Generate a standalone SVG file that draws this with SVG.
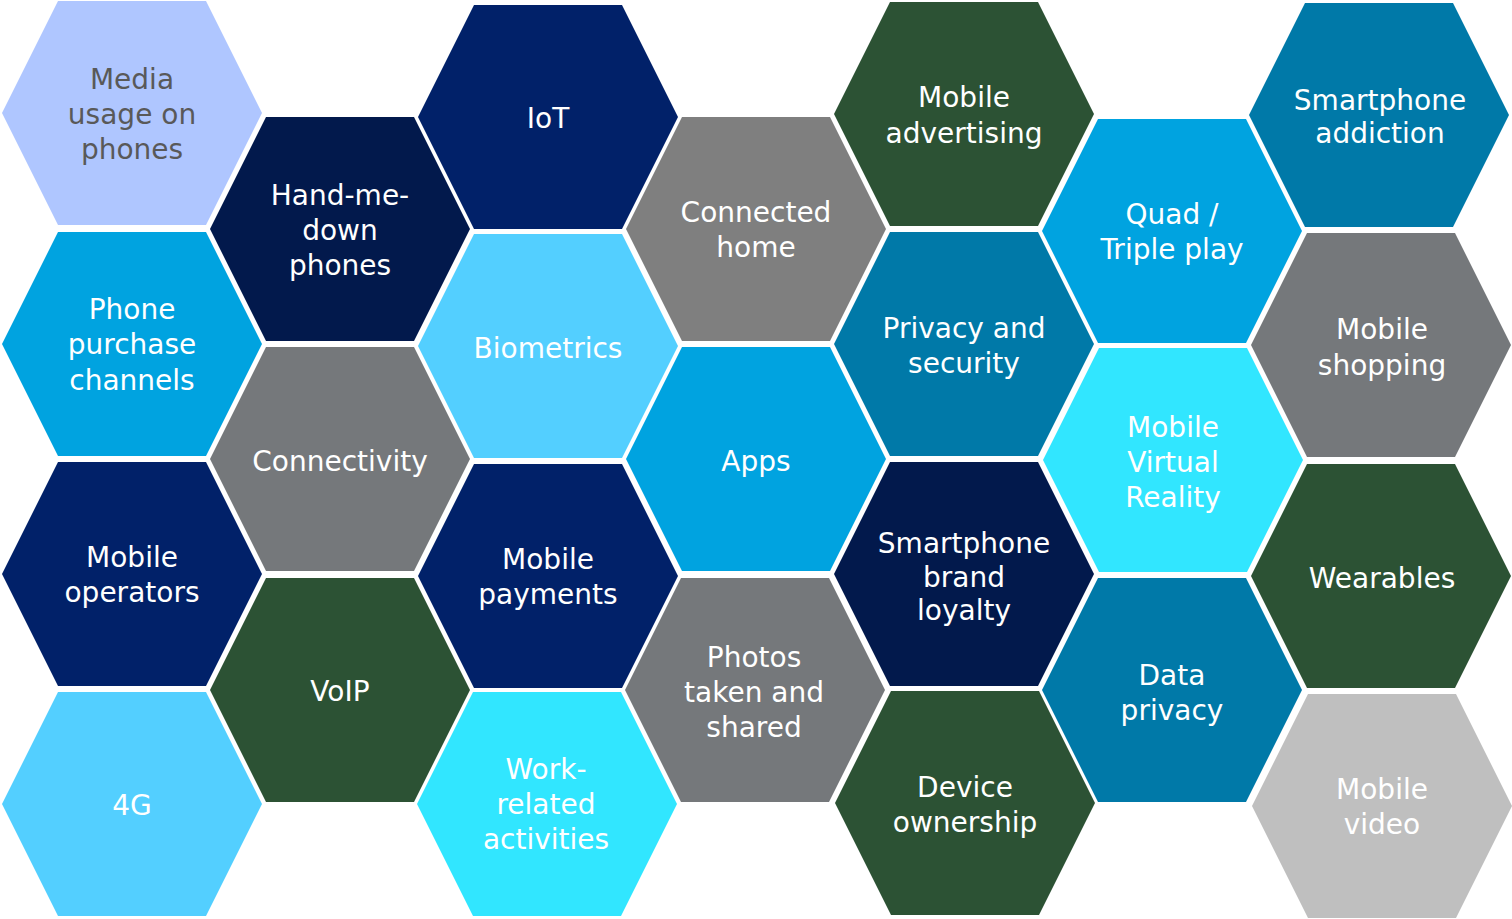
<svg xmlns="http://www.w3.org/2000/svg" xmlns:xlink="http://www.w3.org/1999/xlink" width="1512" height="919" viewBox="0 0 1512 919">
<style>
text{font-family:"DejaVu Sans","Verdana",sans-serif;font-size:28px;text-anchor:middle;fill:#ffffff}
.dk{fill:#595959}
.c-peri{fill:#AFC6FF}.c-navy2{fill:#02194C}.c-navy{fill:#012169}.c-gray{fill:#7F7F7F}
.c-green{fill:#2C5234}.c-blue{fill:#00A3E0}.c-teal{fill:#0079A8}.c-sky{fill:#53CFFF}
.c-slate{fill:#75787B}.c-cyan{fill:#31E6FF}.c-lgray{fill:#BFBFBF}
</style>
<defs>
<polygon id="hex" points="-130,0 -74,-112 74,-112 130,0 74,112 -74,112"/>
</defs>
<rect width="1512" height="919" fill="#ffffff"/>
<g id="media-usage"><use xlink:href="#hex" x="132" y="113" class="c-peri"/><text class="dk" x="132" y="89">Media</text><text class="dk" x="132" y="124">usage on</text><text class="dk" x="132" y="159">phones</text></g>
<g id="phone-purchase"><use xlink:href="#hex" x="132" y="344" class="c-blue"/><text x="132" y="319">Phone</text><text x="132" y="354">purchase</text><text x="132" y="390">channels</text></g>
<g id="mobile-operators"><use xlink:href="#hex" x="132" y="574" class="c-navy"/><text x="132" y="567">Mobile</text><text x="132" y="602">operators</text></g>
<g id="g4"><use xlink:href="#hex" x="132" y="804" class="c-sky"/><text x="132" y="815">4G</text></g>

<g id="hand-me-down"><use xlink:href="#hex" x="340" y="229" class="c-navy2"/><text x="340" y="205">Hand-me-</text><text x="340" y="240">down</text><text x="340" y="275">phones</text></g>
<g id="connectivity"><use xlink:href="#hex" x="340" y="459" class="c-slate"/><text x="340" y="471">Connectivity</text></g>
<g id="voip"><use xlink:href="#hex" x="340" y="690" class="c-green"/><text x="340" y="701">VoIP</text></g>

<g id="iot"><use xlink:href="#hex" x="548" y="117" class="c-navy"/><text x="548" y="128">IoT</text></g>
<g id="biometrics"><use xlink:href="#hex" x="548" y="346" class="c-sky"/><text x="548" y="358">Biometrics</text></g>
<g id="mobile-payments"><use xlink:href="#hex" x="548" y="576" class="c-navy"/><text x="548" y="569">Mobile</text><text x="548" y="604">payments</text></g>
<g id="work-related"><use xlink:href="#hex" x="547" y="804" class="c-cyan"/><text x="546" y="779">Work-</text><text x="546" y="814">related</text><text x="546" y="849">activities</text></g>

<g id="connected-home"><use xlink:href="#hex" x="756" y="229" class="c-gray"/><text x="756" y="222">Connected</text><text x="756" y="257">home</text></g>
<g id="apps"><use xlink:href="#hex" x="756" y="459" class="c-blue"/><text x="756" y="471">Apps</text></g>
<g id="photos"><use xlink:href="#hex" x="755" y="690" class="c-slate"/><text x="754" y="667">Photos</text><text x="754" y="702">taken and</text><text x="754" y="737">shared</text></g>

<g id="mobile-advertising"><use xlink:href="#hex" x="964" y="114" class="c-green"/><text x="964" y="107">Mobile</text><text x="964" y="143">advertising</text></g>
<g id="privacy-security"><use xlink:href="#hex" x="964" y="344" class="c-teal"/><text x="964" y="338">Privacy and</text><text x="964" y="373">security</text></g>
<g id="brand-loyalty"><use xlink:href="#hex" x="964" y="574" class="c-navy2"/><text x="964" y="553">Smartphone</text><text x="964" y="587">brand</text><text x="964" y="620">loyalty</text></g>
<g id="device-ownership"><use xlink:href="#hex" x="965" y="803" class="c-green"/><text x="965" y="797">Device</text><text x="965" y="832">ownership</text></g>

<g id="quad-triple"><use xlink:href="#hex" x="1172" y="231" class="c-blue"/><text x="1172" y="224">Quad /</text><text x="1172" y="259">Triple play</text></g>
<g id="mobile-vr"><use xlink:href="#hex" x="1173" y="460" class="c-cyan"/><text x="1173" y="437">Mobile</text><text x="1173" y="472">Virtual</text><text x="1173" y="507">Reality</text></g>
<g id="data-privacy"><use xlink:href="#hex" x="1172" y="690" class="c-teal"/><text x="1172" y="685">Data</text><text x="1172" y="720">privacy</text></g>

<g id="smartphone-addiction"><use xlink:href="#hex" x="1379" y="115" class="c-teal"/><text x="1380" y="110">Smartphone</text><text x="1380" y="143">addiction</text></g>
<g id="mobile-shopping"><use xlink:href="#hex" x="1381" y="345" class="c-slate"/><text x="1382" y="339">Mobile</text><text x="1382" y="375">shopping</text></g>
<g id="wearables"><use xlink:href="#hex" x="1381" y="576" class="c-green"/><text x="1382" y="588">Wearables</text></g>
<g id="mobile-video"><use xlink:href="#hex" x="1382" y="806" class="c-lgray"/><text x="1382" y="799">Mobile</text><text x="1382" y="834">video</text></g>
<g id="connectors"></g>
</svg>
